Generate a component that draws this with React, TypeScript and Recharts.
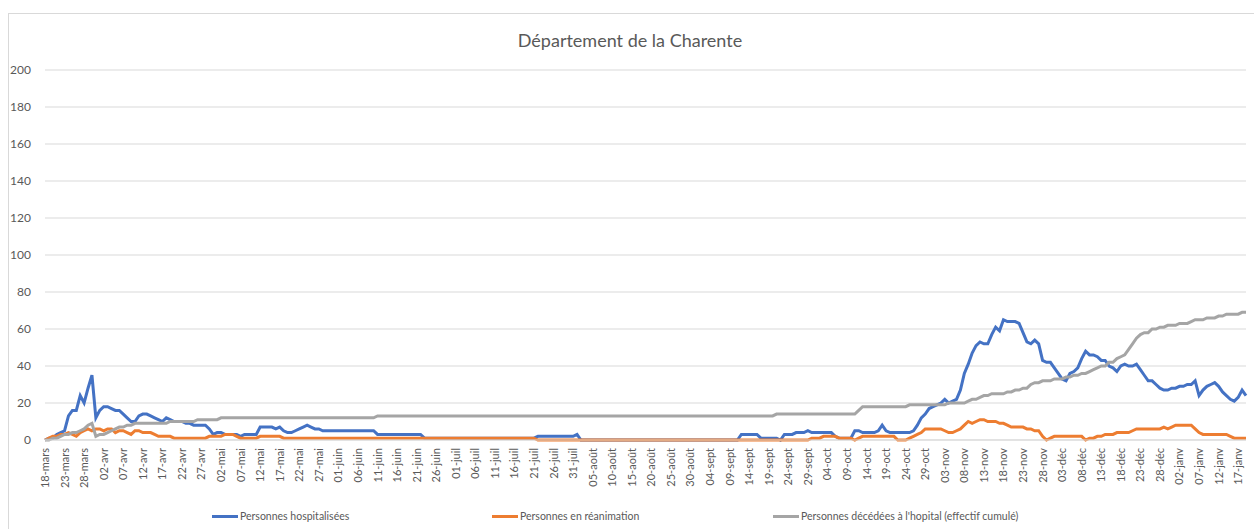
import { LineChart, Line, XAxis, YAxis, CartesianGrid } from 'recharts';

// months covered by the series (day numbers shown on the axis)
const MONTHS = [
  { name: 'mars', first: 18, last: 31 },
  { name: 'avr', first: 1, last: 30 },
  { name: 'mai', first: 1, last: 31 },
  { name: 'juin', first: 1, last: 30 },
  { name: 'juil', first: 1, last: 31 },
  { name: 'août', first: 1, last: 31 },
  { name: 'sept', first: 1, last: 30 },
  { name: 'oct', first: 1, last: 31 },
  { name: 'nov', first: 1, last: 30 },
  { name: 'déc', first: 1, last: 31 },
  { name: 'janv', first: 1, last: 19 },
];

const Y_TICKS = [0, 20, 40, 60, 80, 100, 120, 140, 160, 180, 200];

// Personnes hospitalisées
const HOSP = [
  0, 1, 1, 3, 4, 5, 13, 16, 16, 24,
  20, 28, 35, 12, 16, 18, 18, 17, 16, 16,
  14, 12, 10, 10, 13, 14, 14, 13, 12, 11,
  10, 12, 11, 10, 10, 10, 9, 9, 8, 8,
  8, 8, 6, 3, 4, 4, 3, 3, 3, 3,
  2, 3, 3, 3, 3, 7, 7, 7, 7, 6,
  7, 5, 4, 4, 5, 6, 7, 8, 7, 6,
  6, 5, 5, 5, 5, 5, 5, 5, 5, 5,
  5, 5, 5, 5, 5, 3, 3, 3, 3, 3,
  3, 3, 3, 3, 3, 3, 3, 1, 1, 1,
  1, 1, 1, 1, 1, 1, 1, 1, 1, 1,
  1, 1, 1, 1, 1, 1, 1, 1, 1, 1,
  1, 1, 1, 1, 1, 1, 2, 2, 2, 2,
  2, 2, 2, 2, 2, 2, 3, 0, 0, 0,
  0, 0, 0, 0, 0, 0, 0, 0, 0, 0,
  0, 0, 0, 0, 0, 0, 0, 0, 0, 0,
  0, 0, 0, 0, 0, 0, 0, 0, 0, 0,
  0, 0, 0, 0, 0, 0, 0, 0, 3, 3,
  3, 3, 3, 1, 1, 1, 1, 1, 0, 3,
  3, 3, 4, 4, 4, 5, 4, 4, 4, 4,
  4, 4, 2, 1, 1, 1, 1, 5, 5, 4,
  4, 4, 4, 5, 8, 5, 4, 4, 4, 4,
  4, 4, 5, 8, 12, 14, 17, 18, 19, 20,
  22, 20, 21, 22, 27, 36, 41, 47, 51, 53,
  52, 52, 57, 61, 59, 65, 64, 64, 64, 63,
  58, 53, 52, 54, 52, 43, 42, 42, 39, 36,
  33, 32, 36, 37, 39, 44, 48, 46, 46, 45,
  43, 43, 40, 39, 37, 40, 41, 40, 40, 41,
  38, 35, 32, 32, 30, 28, 27, 27, 28, 28,
  29, 29, 30, 30, 32, 24, 27, 29, 30, 31,
  29, 26, 24, 22, 21, 23, 27, 24,
];

// Personnes en réanimation
const REA = [
  0, 1, 2, 2, 3, 3, 4, 3, 2, 4,
  5, 6, 5, 6, 6, 5, 6, 6, 4, 5,
  5, 4, 3, 5, 5, 4, 4, 4, 3, 2,
  2, 2, 2, 1, 1, 1, 1, 1, 1, 1,
  1, 1, 2, 2, 2, 2, 3, 3, 3, 2,
  1, 1, 1, 1, 1, 2, 2, 2, 2, 2,
  2, 1, 1, 1, 1, 1, 1, 1, 1, 1,
  1, 1, 1, 1, 1, 1, 1, 1, 1, 1,
  1, 1, 1, 1, 1, 1, 1, 1, 1, 1,
  1, 1, 1, 1, 1, 1, 1, 1, 1, 1,
  1, 1, 1, 1, 1, 1, 1, 1, 1, 1,
  1, 1, 1, 1, 1, 1, 1, 1, 1, 1,
  1, 1, 1, 1, 1, 1, 0, 0, 0, 0,
  0, 0, 0, 0, 0, 0, 0, 0, 0, 0,
  0, 0, 0, 0, 0, 0, 0, 0, 0, 0,
  0, 0, 0, 0, 0, 0, 0, 0, 0, 0,
  0, 0, 0, 0, 0, 0, 0, 0, 0, 0,
  0, 0, 0, 0, 0, 0, 0, 0, 0, 0,
  0, 0, 0, 0, 0, 0, 0, 0, 0, 0,
  0, 0, 0, 0, 0, 0, 1, 1, 1, 2,
  2, 2, 2, 1, 1, 1, 1, 0, 1, 2,
  2, 2, 2, 2, 2, 2, 2, 2, 0, 0,
  0, 1, 2, 3, 4, 6, 6, 6, 6, 6,
  5, 4, 4, 5, 6, 8, 10, 9, 10, 11,
  11, 10, 10, 10, 9, 9, 8, 7, 7, 7,
  7, 6, 6, 5, 5, 2, 0, 1, 2, 2,
  2, 2, 2, 2, 2, 2, 0, 1, 1, 2,
  2, 3, 3, 3, 4, 4, 4, 4, 5, 6,
  6, 6, 6, 6, 6, 6, 7, 6, 7, 8,
  8, 8, 8, 8, 6, 4, 3, 3, 3, 3,
  3, 3, 3, 2, 1, 1, 1, 1,
];

// Personnes décédées à l'hopital (effectif cumulé)
const DECES = [
  0, 0, 1, 1, 2, 3, 3, 4, 4, 5,
  6, 8, 9, 2, 3, 3, 4, 5, 6, 7,
  7, 8, 8, 9, 9, 9, 9, 9, 9, 9,
  9, 9, 10, 10, 10, 10, 10, 10, 10, 11,
  11, 11, 11, 11, 11, 12, 12, 12, 12, 12,
  12, 12, 12, 12, 12, 12, 12, 12, 12, 12,
  12, 12, 12, 12, 12, 12, 12, 12, 12, 12,
  12, 12, 12, 12, 12, 12, 12, 12, 12, 12,
  12, 12, 12, 12, 12, 13, 13, 13, 13, 13,
  13, 13, 13, 13, 13, 13, 13, 13, 13, 13,
  13, 13, 13, 13, 13, 13, 13, 13, 13, 13,
  13, 13, 13, 13, 13, 13, 13, 13, 13, 13,
  13, 13, 13, 13, 13, 13, 13, 13, 13, 13,
  13, 13, 13, 13, 13, 13, 13, 13, 13, 13,
  13, 13, 13, 13, 13, 13, 13, 13, 13, 13,
  13, 13, 13, 13, 13, 13, 13, 13, 13, 13,
  13, 13, 13, 13, 13, 13, 13, 13, 13, 13,
  13, 13, 13, 13, 13, 13, 13, 13, 13, 13,
  13, 13, 13, 13, 13, 13, 13, 14, 14, 14,
  14, 14, 14, 14, 14, 14, 14, 14, 14, 14,
  14, 14, 14, 14, 14, 14, 14, 14, 16, 18,
  18, 18, 18, 18, 18, 18, 18, 18, 18, 18,
  18, 19, 19, 19, 19, 19, 19, 19, 19, 19,
  19, 20, 20, 20, 20, 20, 21, 22, 22, 23,
  24, 24, 25, 25, 25, 25, 26, 26, 27, 27,
  28, 28, 30, 31, 31, 32, 32, 32, 33, 33,
  33, 34, 34, 35, 35, 36, 36, 37, 38, 39,
  40, 40, 42, 42, 44, 45, 46, 49, 52, 55,
  57, 58, 58, 60, 60, 61, 61, 62, 62, 62,
  63, 63, 63, 64, 65, 65, 65, 66, 66, 66,
  67, 67, 68, 68, 68, 68, 69, 69,
];

const DATES: string[] = [];
MONTHS.forEach((m) => {
  for (let d = m.first; d <= m.last; d++) {
    DATES.push(`${String(d).padStart(2, '0')}-${m.name}`);
  }
});

const data = DATES.map((date, i) => ({
  date,
  hosp: HOSP[i],
  rea: REA[i],
  deces: DECES[i],
}));

const TEXT = '#595959';
const FONT = 'Lato, "Liberation Sans", sans-serif';

const XTick = ({ x, y, payload }: any) => (
  <text
    x={x}
    y={y}
    dy={4}
    transform={`rotate(-90, ${x}, ${y})`}
    textAnchor="end"
    fontSize={11}
    fontFamily={FONT}
    fill={TEXT}
  >
    {payload.value}
  </text>
);

const legendItems = [
  { label: 'Personnes hospitalisées', color: '#4472C4', left: 212 },
  { label: 'Personnes en réanimation', color: '#ED7D31', left: 492 },
  { label: "Personnes décédées à l'hopital (effectif cumulé)", color: '#A5A5A5', left: 773 },
];

export default function App() {
  return (
    <div style={{ position: 'absolute', left: 0, top: 0, width: 1254, height: 529, background: '#fff', overflow: 'hidden' }}>
      <div style={{ position: 'absolute', left: 8, top: 13, width: 1260, height: 530, border: '1px solid #d9d9d9' }} />
      <div
        style={{
          position: 'absolute',
          left: 0,
          top: 29,
          width: 1260,
          textAlign: 'center',
          fontFamily: FONT,
          fontSize: 18,
          color: TEXT,
        }}
      >
        Département de la Charente
      </div>
      <div style={{ position: 'absolute', left: 0, top: 0 }}>
        <LineChart width={1254} height={529} data={data} margin={{ top: 70, right: 8, left: 0, bottom: 29 }}>
          <CartesianGrid vertical={false} stroke="#d9d9d9" />
          <XAxis
            dataKey="date"
            interval={4}
            height={60}
            tick={<XTick />}
            tickLine={false}
            axisLine={{ stroke: '#d9d9d9' }}
          />
          <YAxis
            width={45}
            domain={[0, 200]}
            ticks={Y_TICKS}
            tickLine={false}
            axisLine={false}
            tickMargin={8}
            tick={{ fontSize: 12, fill: TEXT, fontFamily: FONT }}
          />
          <Line type="linear" dataKey="hosp" stroke="#4472C4" strokeWidth={3} dot={false} isAnimationActive={false} />
          <Line type="linear" dataKey="rea" stroke="#ED7D31" strokeWidth={3} dot={false} isAnimationActive={false} />
          <Line type="linear" dataKey="deces" stroke="#A5A5A5" strokeWidth={3} dot={false} isAnimationActive={false} />
        </LineChart>
      </div>
      {legendItems.map((item) => (
        <div
          key={item.label}
          style={{
            position: 'absolute',
            left: item.left,
            top: 510,
            display: 'flex',
            alignItems: 'center',
            fontFamily: FONT,
            fontSize: 10.5,
            color: TEXT,
            whiteSpace: 'nowrap',
          }}
        >
          <span style={{ display: 'inline-block', width: 26, height: 3, background: item.color, marginRight: 2 }} />
          {item.label}
        </div>
      ))}
    </div>
  );
}
